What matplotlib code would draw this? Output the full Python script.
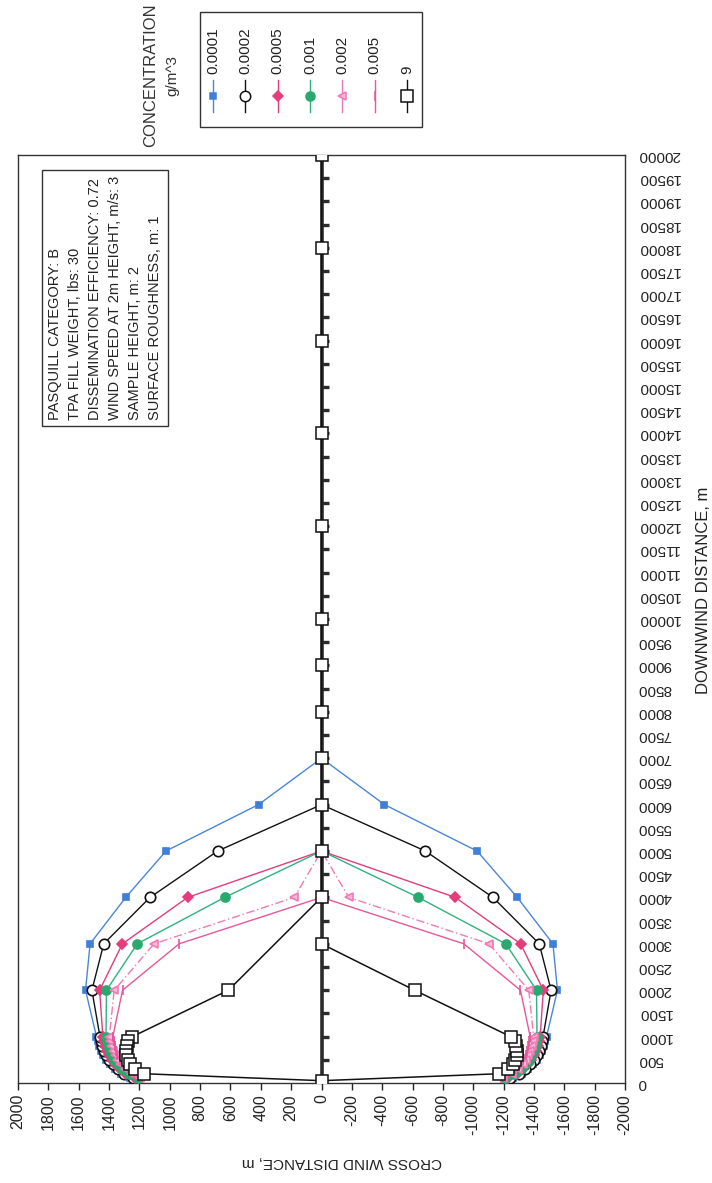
import numpy as np
import matplotlib
matplotlib.use("Agg")
import matplotlib.pyplot as plt
from matplotlib.lines import Line2D
from matplotlib.patches import Rectangle
from matplotlib.markers import TICKRIGHT

plt.rcParams["font.family"] = ["Liberation Sans", "DejaVu Sans"]
plt.rcParams["axes.unicode_minus"] = False

W, H = 712, 1183

# ─── datos: semi-ancho (m) de cada isopleta vs distancia a favor del viento ───
DIST_NEAR = [100, 200, 300, 400, 500, 600, 700, 800, 900, 1000]
DIST_FAR = [2000, 3000, 4000, 5000, 6000, 7000]

LEVELS = ["0.0001", "0.0002", "0.0005", "0.001", "0.002", "0.005"]
hw_0001 = [1265, 1320, 1360, 1392, 1418, 1438, 1452, 1465, 1475, 1483] + [1555, 1525, 1290, 1025, 415, 0]
hw_0002 = [1245, 1302, 1344, 1376, 1400, 1418, 1432, 1444, 1453, 1460] + [1513, 1435, 1130, 684, 0]
hw_0005 = [1228, 1286, 1328, 1360, 1383, 1400, 1414, 1425, 1434, 1441] + [1462, 1312, 882, 0]
hw_001 = [1212, 1270, 1312, 1343, 1366, 1383, 1396, 1406, 1414, 1420] + [1417, 1214, 638, 0]
hw_002 = [1196, 1254, 1295, 1326, 1348, 1364, 1376, 1385, 1392, 1398] + [1366, 1103, 180, 0]
hw_005 = [1180, 1238, 1278, 1308, 1330, 1345, 1356, 1364, 1370, 1375] + [1311, 938, 0]
HALF_WIDTHS = [hw_0001, hw_0002, hw_0005, hw_001, hw_002, hw_005]

# serie "9"
DIST_9 = [50, 200, 300, 400, 500, 600, 700, 800, 900, 1000, 2000, 3000]
hw_9 = [0, 1172, 1228, 1264, 1278, 1286, 1286, 1284, 1272, 1246, 613, 0]
CENTER_9 = [4000, 5000, 6000, 7000, 8000, 9000, 10000, 12000, 14000, 16000, 18000, 20000]

STYLES = [
    dict(color="#4a86d8", marker="s", ms=5, mfc="#3f7fd6", mec="#3f7fd6", ls="-"),
    dict(color="#111111", marker="o", ms=7.5, mfc="white", mec="#111111", ls="-"),
    dict(color="#e33d7c", marker="D", ms=5, mfc="#e33d7c", mec="#e33d7c", ls="-"),
    dict(color="#2fb27e", marker="o", ms=6.5, mfc="#2aa96e", mec="#2aa96e", ls="-"),
    dict(color="#f07ab4", marker="<", ms=6, mfc="#f9b8d6", mec="#f07ab4", ls=(0, (6, 2, 1, 2))),
    dict(color="#e8569e", marker="|", ms=7, mfc="#e8569e", mec="#e8569e", ls="-"),
]
STYLE_9 = dict(color="#111111", marker="s", ms=8, mfc="white", mec="#111111", ls="-")

fig = plt.figure(figsize=(W / 100, H / 100), dpi=100)
ax = fig.add_axes([18 / W, 1 - 1083 / H, (625 - 18) / W, (1083 - 155) / H])

# cada isopleta: lado positivo hacia arriba y luego lado negativo de vuelta
for hw, st in zip(HALF_WIDTHS, STYLES):
    d = (DIST_NEAR + DIST_FAR)[:len(hw)]
    xs = list(hw) + [-v for v in hw[-2::-1]]
    ys = list(d) + list(d[-2::-1])
    ax.plot(xs, ys, lw=1, zorder=3, mew=1.2, **st)

# eje a favor del viento en cruce = 0
ax.axvline(0, color="#2b2b2b", lw=2.6, zorder=4)
tk = np.arange(500, 20000, 500)
ax.plot(np.zeros_like(tk), tk, ls="none", marker=TICKRIGHT, ms=5, mew=2.4, color="#2b2b2b", zorder=4)

ys9 = CENTER_9[::-1] + DIST_9[::-1][1:] + DIST_9[1:]
xs9 = [0] * len(CENTER_9) + hw_9[::-1][1:] + [-v for v in hw_9[1:]]
ax.plot(xs9, ys9, lw=1.1, zorder=5, mew=1.1, **STYLE_9)

ax.set_xlim(2000, -2000)
ax.set_ylim(0, 20000)
ax.set_xticks(np.arange(-2000, 2001, 200))
ax.set_xticklabels([str(v) for v in np.arange(-2000, 2001, 200)])
ax.tick_params(axis="x", direction="out", length=5, width=1, labelrotation=90,
               labelsize=11.5, pad=3, colors="#222222")
ax.set_yticks(np.arange(0, 20001, 500))
ax.set_yticklabels([str(v) for v in np.arange(0, 20001, 500)])
ax.yaxis.tick_right()
ax.tick_params(axis="y", length=0, labelrotation=180, labelsize=11, pad=9, colors="#222222")
plt.setp(ax.get_yticklabels(), ha="left", va="center")
for s in ax.spines.values():
    s.set_linewidth(1)
    s.set_color("#333333")

fx = lambda x: x / W
fy = lambda y: 1 - y / H

fig.text(fx(703), fy(590), "DOWNWIND DISTANCE, m", rotation=90, ha="center", va="center",
         fontsize=12, color="#222222")
fig.text(fx(342), fy(1162), "CROSS WIND DISTANCE, m", rotation=180, ha="center", va="center",
         fontsize=11, color="#222222")

info = ("PASQUILL CATEGORY: B\nTPA FILL WEIGHT, lbs: 30\nDISSEMINATION EFFICIENCY: 0.72\n"
        "WIND SPEED AT 2m HEIGHT, m/s: 3\nSAMPLE HEIGHT, m: 2\nSURFACE ROUGHNESS, m: 1")
fig.text(fx(48), fy(420), info, rotation=90, ha="left", va="bottom", fontsize=10.5,
         multialignment="left", color="#222222", linespacing=1.55,
         bbox=dict(boxstyle="square,pad=0.4", fc="white", ec="#333333", lw=1))

# leyenda girada
fig.text(fx(151), fy(75), "CONCENTRATION", rotation=90, ha="center", va="center",
         fontsize=12, color="#333333")
fig.text(fx(172), fy(75), "g/m^3", rotation=90, ha="center", va="center",
         fontsize=11, color="#333333")
fig.add_artist(Rectangle((fx(200), fy(127)), fx(422) - fx(200), fy(12) - fy(127),
                         transform=fig.transFigure, fill=False, ec="#333333", lw=1))
names = LEVELS + ["9"]
styles = STYLES + [STYLE_9]
for i, (nm, st) in enumerate(zip(names, styles)):
    x = 213 + i * 32.3
    st2 = dict(st)
    ls = st2.pop("ls")
    fig.add_artist(Line2D([fx(x)] * 3, [fy(112), fy(96), fy(80)], transform=fig.transFigure,
                          ls=ls if i != 4 else "-", lw=1, markevery=[1], mew=1.1, **st2))
    fig.text(fx(x), fy(74), nm, rotation=90, ha="center", va="bottom", fontsize=11, color="#222222")

fig.savefig("out.png", dpi=100, facecolor="white")
